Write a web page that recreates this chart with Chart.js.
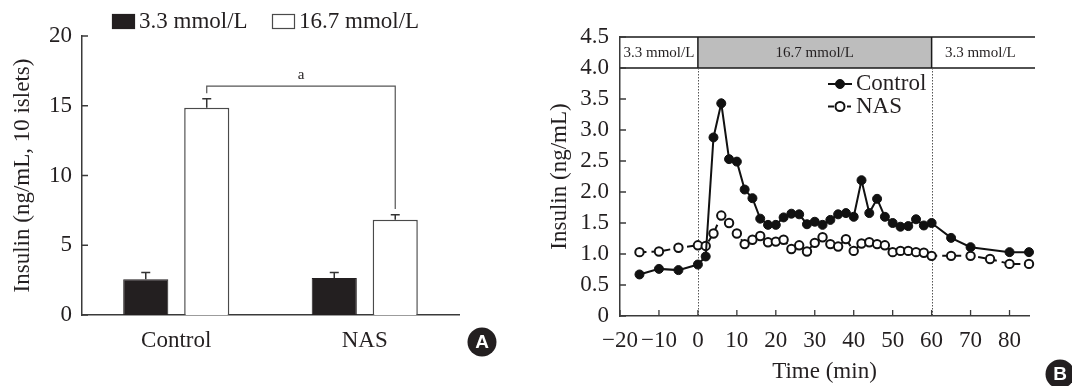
<!DOCTYPE html>
<html>
<head>
<meta charset="utf-8">
<script src="https://cdn.jsdelivr.net/npm/chart.js@4.4.0/dist/chart.umd.min.js"></script>
<style>
html, body { margin: 0; padding: 0; background: #fff; }
#panelA { position: absolute; left: 0; top: 0; width: 540px; height: 386px; }
#panelB { position: absolute; left: 540px; top: 0; width: 532px; height: 386px; }
</style>
</head>
<body>
<div id="panelA"><canvas id="barChart"></canvas></div>
<div id="panelB"><canvas id="lineChart"></canvas></div>
<script>
// panel A: static insulin secretion
const groups = ['Control', 'NAS'];
const lowGlucose = [2.57, 2.66];
const lowGlucoseErr = [0.47, 0.38];
const highGlucose = [14.86, 6.83];
const highGlucoseErr = [0.64, 0.36];
const sigMark = 'a';

// panel B: perifusion time course
const controlTime = [-15, -10, -5, 0, 2, 4, 6, 8, 10, 12, 14, 16, 18, 20, 22, 24, 26, 28, 30, 32, 34, 36, 38, 40, 42, 44, 46, 48, 50, 52, 54, 56, 58, 60, 65, 70, 80, 85];
const controlInsulin = [0.67, 0.76, 0.74, 0.83, 0.96, 2.88, 3.43, 2.53, 2.49, 2.04, 1.90, 1.57, 1.47, 1.47, 1.59, 1.65, 1.64, 1.48, 1.52, 1.47, 1.55, 1.64, 1.66, 1.60, 2.19, 1.66, 1.89, 1.60, 1.50, 1.44, 1.45, 1.56, 1.46, 1.50, 1.26, 1.11, 1.03, 1.03];
const nasTime = [-15, -10, -5, 0, 2, 4, 6, 8, 10, 12, 14, 16, 18, 20, 22, 24, 26, 28, 30, 32, 34, 36, 38, 40, 42, 44, 46, 48, 50, 52, 54, 56, 58, 60, 65, 70, 75, 80, 85];
const nasInsulin = [1.03, 1.04, 1.10, 1.14, 1.13, 1.33, 1.62, 1.50, 1.33, 1.16, 1.23, 1.29, 1.19, 1.20, 1.23, 1.08, 1.14, 1.04, 1.18, 1.27, 1.16, 1.12, 1.24, 1.05, 1.17, 1.19, 1.16, 1.14, 1.03, 1.05, 1.05, 1.03, 1.02, 0.97, 0.97, 0.97, 0.92, 0.84, 0.84];
const timeTicks = [-20, -10, 0, 10, 20, 30, 40, 50, 60, 70, 80];
const phaseBounds = [-20, 0, 60, 85];
const phaseLabels = ['3.3 mmol/L', '16.7 mmol/L', '3.3 mmol/L'];

const serif = '"Liberation Serif", "DejaVu Serif", serif';
const ink = '#231f20';
const axisColor = '#3a3a3a';
const fontSize = 23;
Chart.defaults.font.family = serif;
Chart.defaults.color = ink;

function drawInnerTicks(ctx, chart, len) {
    const area = chart.chartArea;
    const xs = chart.scales.x, ys = chart.scales.y;
    ctx.save();
    ctx.strokeStyle = axisColor;
    ctx.lineWidth = 1.3;
    ctx.beginPath();
    ys.ticks.forEach(t => {
        const py = ys.getPixelForValue(t.value);
        ctx.moveTo(area.left, py);
        ctx.lineTo(area.left + len, py);
    });
    if (xs.type === 'linear') {
        xs.ticks.forEach(t => {
            const px = xs.getPixelForValue(t.value);
            ctx.moveTo(px, area.bottom);
            ctx.lineTo(px, area.bottom - len);
        });
    }
    ctx.stroke();
    ctx.restore();
}

function drawPanelLetter(ctx, letter, cx, cy) {
    ctx.save();
    ctx.fillStyle = ink;
    ctx.beginPath();
    ctx.arc(cx, cy, 14.5, 0, Math.PI * 2);
    ctx.fill();
    ctx.fillStyle = '#fff';
    ctx.font = 'bold 19px "Liberation Sans", Arial, sans-serif';
    ctx.textAlign = 'center';
    ctx.textBaseline = 'middle';
    ctx.fillText(letter, cx, cy + 1);
    ctx.restore();
}

const barExtras = {
    id: 'barExtras',
    afterDatasetsDraw(chart) {
        const ctx = chart.ctx;
        const ys = chart.scales.y;
        const errTops = [];
        ctx.save();
        ctx.strokeStyle = '#333';
        ctx.lineWidth = 1.5;
        chart.data.datasets.forEach((ds, i) => {
            const meta = chart.getDatasetMeta(i);
            errTops[i] = [];
            meta.data.forEach((bar, j) => {
                const top = ds.data[j] + ds.errors[j];
                errTops[i][j] = top;
                const py = ys.getPixelForValue(top);
                ctx.beginPath();
                ctx.moveTo(bar.x, bar.y);
                ctx.lineTo(bar.x, py);
                ctx.moveTo(bar.x - 4.5, py);
                ctx.lineTo(bar.x + 4.5, py);
                ctx.stroke();
            });
        });
        // significance bracket between the 16.7 mmol/L bars
        const hiMeta = chart.getDatasetMeta(1);
        const x1 = hiMeta.data[0].x, x2 = hiMeta.data[1].x;
        const yTop = ys.getPixelForValue(Math.max(errTops[1][0], errTops[1][1]) + 0.9);
        ctx.strokeStyle = '#555';
        ctx.lineWidth = 1.2;
        ctx.beginPath();
        ctx.moveTo(x1, ys.getPixelForValue(errTops[1][0] + 0.4));
        ctx.lineTo(x1, yTop);
        ctx.lineTo(x2, yTop);
        ctx.lineTo(x2, ys.getPixelForValue(errTops[1][1] + 0.4));
        ctx.stroke();
        ctx.fillStyle = ink;
        ctx.font = '15px ' + serif;
        ctx.textAlign = 'center';
        ctx.textBaseline = 'bottom';
        ctx.fillText(sigMark, (x1 + x2) / 2, yTop - 4);

        // legend along the top
        const legendX = [112, 272];
        ctx.font = fontSize + 'px ' + serif;
        ctx.textAlign = 'left';
        ctx.textBaseline = 'middle';
        chart.data.datasets.forEach((ds, i) => {
            ctx.fillStyle = ds.backgroundColor;
            ctx.fillRect(legendX[i], 14, 23, 15);
            ctx.strokeStyle = ds.borderColor;
            ctx.lineWidth = 1.2;
            ctx.strokeRect(legendX[i] + 0.5, 14.5, 22, 14);
            ctx.fillStyle = ink;
            ctx.fillText(ds.label, legendX[i] + 27, 22);
        });
        ctx.restore();

        drawInnerTicks(ctx, chart, 6);
        drawPanelLetter(ctx, 'A', 482, 342);
    }
};

new Chart(document.getElementById('barChart'), {
    type: 'bar',
    data: {
        labels: groups,
        datasets: [
            {
                label: '3.3 mmol/L',
                data: lowGlucose,
                errors: lowGlucoseErr,
                backgroundColor: ink,
                borderColor: ink,
                borderWidth: 1
            },
            {
                label: '16.7 mmol/L',
                data: highGlucose,
                errors: highGlucoseErr,
                backgroundColor: '#ffffff',
                borderColor: '#4a4a4a',
                borderWidth: 1.5
            }
        ]
    },
    options: {
        responsive: true,
        maintainAspectRatio: false,
        animation: false,
        layout: { padding: { top: 36, right: 81, bottom: 0, left: 0 } },
        datasets: { bar: { categoryPercentage: 0.647, barPercentage: 0.74 } },
        plugins: { legend: { display: false }, tooltip: { enabled: false } },
        scales: {
            x: {
                grid: { display: false, drawTicks: false },
                border: { display: true, color: axisColor, width: 1.5 },
                ticks: { font: { size: fontSize }, padding: 12, color: ink },
                afterFit: s => { s.height = 71; }
            },
            y: {
                min: 0,
                max: 20,
                grid: { display: false, drawTicks: false },
                border: { display: true, color: axisColor, width: 1.5 },
                ticks: { stepSize: 5, font: { size: fontSize }, padding: 10, color: ink },
                title: {
                    display: true,
                    text: 'Insulin (ng/mL, 10 islets)',
                    font: { size: fontSize },
                    color: ink,
                    padding: { top: 9, bottom: 0 }
                },
                afterFit: s => { s.width = 82; }
            }
        }
    },
    plugins: [barExtras]
});

const lineExtras = {
    id: 'lineExtras',
    beforeDatasetsDraw(chart) {
        const ctx = chart.ctx;
        const area = chart.chartArea;
        const xs = chart.scales.x, ys = chart.scales.y;
        const yHi = ys.getPixelForValue(4.5), yLo = ys.getPixelForValue(4.0);
        ctx.save();
        // shaded high-glucose phase
        ctx.fillStyle = '#bdbdbd';
        ctx.fillRect(xs.getPixelForValue(phaseBounds[1]), yHi, xs.getPixelForValue(phaseBounds[2]) - xs.getPixelForValue(phaseBounds[1]), yLo - yHi);
        ctx.strokeStyle = '#1a1a1a';
        ctx.lineWidth = 1.5;
        ctx.beginPath();
        ctx.moveTo(area.left, yHi);
        ctx.lineTo(area.right + 6, yHi);
        ctx.moveTo(area.left, yLo);
        ctx.lineTo(area.right + 6, yLo);
        for (let i = 1; i < phaseBounds.length - 1; i++) {
            const px = xs.getPixelForValue(phaseBounds[i]);
            ctx.moveTo(px, yHi);
            ctx.lineTo(px, yLo);
        }
        ctx.stroke();
        // dotted phase changes
        ctx.strokeStyle = '#555';
        ctx.lineWidth = 1;
        ctx.setLineDash([1.5, 1.5]);
        ctx.beginPath();
        for (let i = 1; i < phaseBounds.length - 1; i++) {
            const px = Math.round(xs.getPixelForValue(phaseBounds[i])) + 0.5;
            ctx.moveTo(px, yLo);
            ctx.lineTo(px, area.bottom);
        }
        ctx.stroke();
        ctx.setLineDash([]);
        ctx.fillStyle = ink;
        ctx.font = '15px ' + serif;
        ctx.textAlign = 'center';
        ctx.textBaseline = 'middle';
        phaseLabels.forEach((lab, i) => {
            const a = xs.getPixelForValue(phaseBounds[i]);
            const b = xs.getPixelForValue(phaseBounds[i + 1]);
            ctx.fillText(lab, (a + b) / 2, (yHi + yLo) / 2 + 1);
        });
        ctx.restore();
        drawInnerTicks(ctx, chart, 6);
    },
    afterDatasetsDraw(chart) {
        const ctx = chart.ctx;
        ctx.save();
        ctx.font = fontSize + 'px ' + serif;
        ctx.textAlign = 'left';
        ctx.textBaseline = 'middle';
        chart.data.datasets.forEach((ds, i) => {
            const y = 84 + i * 22.5;
            ctx.strokeStyle = ds.borderColor;
            ctx.lineWidth = 2;
            ctx.beginPath();
            if (ds.borderDash) {
                ctx.moveTo(288, y); ctx.lineTo(294, y);
                ctx.moveTo(307, y); ctx.lineTo(311, y);
            } else {
                ctx.moveTo(288, y); ctx.lineTo(312, y);
            }
            ctx.stroke();
            ctx.fillStyle = ds.pointBackgroundColor;
            ctx.lineWidth = ds.pointBorderWidth;
            ctx.beginPath();
            ctx.arc(300, y, 4.5, 0, Math.PI * 2);
            ctx.fill();
            ctx.stroke();
            ctx.fillStyle = ink;
            ctx.fillText(ds.label, 316, y);
        });
        ctx.restore();
        drawPanelLetter(ctx, 'B', 520, 374);
    }
};

new Chart(document.getElementById('lineChart'), {
    type: 'line',
    data: {
        datasets: [
            {
                label: 'Control',
                data: controlTime.map((t, i) => ({ x: t, y: controlInsulin[i] })),
                borderColor: '#111',
                borderWidth: 2,
                pointRadius: 4.5,
                pointBackgroundColor: '#111',
                pointBorderColor: '#111',
                pointBorderWidth: 1,
                tension: 0,
                clip: false
            },
            {
                label: 'NAS',
                data: nasTime.map((t, i) => ({ x: t, y: nasInsulin[i] })),
                borderColor: '#111',
                borderWidth: 2,
                borderDash: [7, 5],
                pointRadius: 4.2,
                pointBackgroundColor: '#ffffff',
                pointBorderColor: '#111',
                pointBorderWidth: 2,
                tension: 0,
                clip: false
            }
        ]
    },
    options: {
        responsive: true,
        maintainAspectRatio: false,
        animation: false,
        layout: { padding: { top: 37, right: 43, bottom: 0, left: 0 } },
        plugins: { legend: { display: false }, tooltip: { enabled: false } },
        scales: {
            x: {
                type: 'linear',
                min: -20,
                max: 85,
                grid: { display: false, drawTicks: false },
                border: { display: true, color: axisColor, width: 1.5 },
                afterBuildTicks: s => { s.ticks = timeTicks.map(v => ({ value: v })); },
                ticks: {
                    autoSkip: false,
                    maxRotation: 0,
                    font: { size: fontSize },
                    padding: 11,
                    color: ink,
                    callback: v => (v < 0 ? '\u2212' + Math.abs(v) : String(v))
                },
                title: {
                    display: true,
                    text: 'Time (min)',
                    font: { size: fontSize },
                    color: ink,
                    padding: { top: 0, bottom: 0 }
                },
                afterFit: s => { s.height = 70; }
            },
            y: {
                min: 0,
                max: 4.5,
                grid: { display: false, drawTicks: false },
                border: { display: true, color: axisColor, width: 1.5 },
                ticks: {
                    stepSize: 0.5,
                    autoSkip: false,
                    font: { size: fontSize },
                    padding: 11,
                    color: ink,
                    callback: v => (v === 0 ? '0' : v.toFixed(1))
                },
                title: {
                    display: true,
                    text: 'Insulin (ng/mL)',
                    font: { size: fontSize },
                    color: ink,
                    padding: { top: 6, bottom: 0 }
                },
                afterFit: s => { s.width = 80; }
            }
        }
    },
    plugins: [lineExtras]
});
</script>
</body>
</html>
